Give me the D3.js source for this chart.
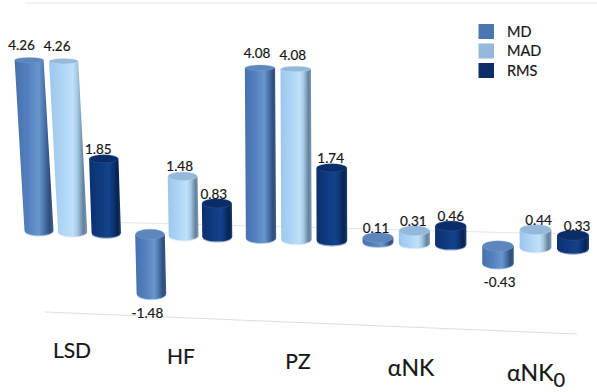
<!DOCTYPE html>
<html>
<head>
<meta charset="utf-8">
<script src="https://cdn.jsdelivr.net/npm/d3@7"></script>
<style>
  html, body { margin: 0; padding: 0; background: #fff; }
  svg { display: block; }
  text { font-family: Lato, "Open Sans", sans-serif; fill: #161616; stroke: #161616; stroke-width: 0.2; }
</style>
</head>
<body>
<svg id="chart" width="597" height="392"></svg>
<script>
const categories = ["LSD", "HF", "PZ", "αNK", "αNK"];
const categorySubscripts = ["", "", "", "", "0"];
const seriesNames = ["MD", "MAD", "RMS"];
const mdValues = [4.26, -1.48, 4.08, 0.11, -0.43];
const madValues = [4.26, 1.48, 4.08, 0.31, 0.44];
const rmsValues = [1.85, 0.83, 1.74, 0.46, 0.33];
const seriesValues = [mdValues, madValues, rmsValues];

const seriesStyle = [
  { cap: "#5c86bc", rim: "#7ea5d4", swatch: "#4a76b2",
    stops: ["#4670ac", "#5382c0", "#6a96cc", "#4f7bb5", "#2f4d7b", "#3f6089"] },
  { cap: "#93b8da", rim: "#c4def4", swatch: "#94b9dc",
    stops: ["#9cc6ec", "#aed5f6", "#bfe1fa", "#a6c9e4", "#64829e", "#7e99b2"] },
  { cap: "#0a2c68", rim: "#3f66a0", swatch: "#0c2f6b",
    stops: ["#0b3070", "#0f3a80", "#134389", "#0e367a", "#07224f", "#1d4270"] }
];
const stopOffsets = [0, 0.35, 0.62, 0.74, 0.9, 1];

const svg = d3.select("#chart");
const defs = svg.append("defs");

seriesStyle.forEach((s, i) => {
  const g = defs.append("linearGradient").attr("id", "body" + i);
  s.stops.forEach((c, k) => g.append("stop").attr("offset", stopOffsets[k]).attr("stop-color", c));
});

// Horizontal placement widens slightly to the right to suggest perspective.
const slotsPerCategory = 3.3;
const x = d3.scaleLinear()
  .domain([0, 3.3, 6.6, 9.9, 13.2, 15.2])
  .range([39, 150, 261, 378, 498, 573]);
const barWidth = d3.scaleLinear().domain([39, 573]).range([29, 32]);

// The floor plane slopes downward from left to right.
const floorY = d3.scaleLinear().domain([39, 573]).range([230.5, 248.5]);
const pxPerUnit = d3.scaleOrdinal().domain(d3.range(5)).range([40, 40, 41.7, 40, 40]);

// Columns on the left lean outward; the lean fades across the chart.
const lean = d3.scaleLinear()
  .domain([39, 72, 105, 182, 261, 400])
  .range([0.058, 0.053, 0.034, 0.017, 0.006, 0])
  .clamp(true);

// Ellipses open up the further they sit below eye level.
const ellipseRy = d3.scaleLinear().domain([57, 300]).range([2.6, 6]);
const labelShift = d3.scaleLinear()
  .domain([39, 105, 182, 296, 332, 378, 451, 536, 573])
  .range([-7.5, -5.5, -3, -3, -1, -2, 0, 3, 4]);
const labelGap = d3.scaleLinear().domain([60, 150]).range([10, 4.8]).clamp(true);

// Background rules of the chart box.
const rules = [
  [[25, 3], [597, 3], "#e6e6e6", 1.2],
  [[120, 222.5], [560, 234], "#e4e4e4", 1],
  [[45, 312], [577, 334], "#dedede", 1]
];
svg.append("g").selectAll("line").data(rules).join("line")
  .attr("x1", d => d[0][0]).attr("y1", d => d[0][1])
  .attr("x2", d => d[1][0]).attr("y2", d => d[1][1])
  .attr("stroke", d => d[2]).attr("stroke-width", d => d[3]);

// One record per column, drawn left to right.
const columns = [];
categories.forEach((c, ci) => {
  seriesNames.forEach((name, si) => {
    const value = seriesValues[si][ci];
    const base = x(ci * slotsPerCategory + si);
    const y0 = floorY(base);
    const yEnd = y0 - value * pxPerUnit(ci);
    const topY = Math.min(y0, yEnd), botY = Math.max(y0, yEnd);
    const k = lean(base);
    const cxAt = y => base - k * (y0 - y);
    columns.push({ ci, si, value, base, topY, botY, topX: cxAt(topY), botX: cxAt(botY),
      rx: barWidth(base) / 2, ryTop: ellipseRy(topY), ryBot: ellipseRy(botY) });
  });
});

const barG = svg.append("g");
const bar = barG.selectAll("g").data(columns).join("g");

bar.append("path")
  .attr("d", d => {
    const p = d3.path();
    p.moveTo(d.topX - d.rx, d.topY);
    p.lineTo(d.botX - d.rx, d.botY);
    p.bezierCurveTo(d.botX - d.rx, d.botY + d.ryBot * 1.33, d.botX + d.rx, d.botY + d.ryBot * 1.33, d.botX + d.rx, d.botY);
    p.lineTo(d.topX + d.rx, d.topY);
    p.closePath();
    return p.toString();
  })
  .attr("fill", d => `url(#body${d.si})`);

// Thin lit rim along the base of each column.
bar.append("path")
  .attr("d", d => {
    const p = d3.path();
    p.moveTo(d.botX - d.rx + 1, d.botY + d.ryBot * 0.45);
    p.bezierCurveTo(d.botX - d.rx * 0.5, d.botY + d.ryBot * 1.28, d.botX + d.rx * 0.5, d.botY + d.ryBot * 1.28, d.botX + d.rx - 1, d.botY + d.ryBot * 0.45);
    return p.toString();
  })
  .attr("fill", "none")
  .attr("stroke", d => seriesStyle[d.si].rim)
  .attr("stroke-opacity", 0.55)
  .attr("stroke-width", 1.1);

bar.append("ellipse")
  .attr("cx", d => d.topX).attr("cy", d => d.topY)
  .attr("rx", d => d.rx - 0.3).attr("ry", d => d.ryTop)
  .attr("fill", d => seriesStyle[d.si].cap)
  .attr("stroke", d => seriesStyle[d.si].rim)
  .attr("stroke-opacity", 0.5)
  .attr("stroke-width", 0.7);

// Value labels sit above positive columns and below negative ones.
svg.append("g").selectAll("text").data(columns).join("text")
  .attr("x", d => (d.value < 0 ? d.botX : d.topX) + labelShift(d.base))
  .attr("y", d => d.value < 0 ? d.botY + d.ryBot + 18.5 : d.topY - labelGap(d.topY))
  .attr("text-anchor", "middle")
  .attr("font-size", 13.5)
  .text(d => d.value.toFixed(2));

// Category names follow the slope of the floor.
const categoryLabelX = d3.scaleOrdinal().domain(d3.range(5)).range([72, 181, 298, 411, 536]);
const categoryLabelY = d3.scaleOrdinal().domain(d3.range(5)).range([358, 364, 369, 376, 381]);
const categoryFontSize = d3.scaleOrdinal().domain(d3.range(5)).range([21, 21, 21, 23, 23]);
const catLabels = svg.append("g").selectAll("text").data(categories).join("text")
  .attr("x", (d, i) => categoryLabelX(i))
  .attr("y", (d, i) => categoryLabelY(i))
  .attr("text-anchor", "middle")
  .attr("font-size", (d, i) => categoryFontSize(i))
  .text(d => d);
catLabels.filter((d, i) => categorySubscripts[i])
  .append("tspan")
  .attr("dy", 6)
  .attr("font-size", 20)
  .text(categorySubscripts[4]);

// Legend.
const legendY = d3.scalePoint().domain(seriesNames).range([31.5, 70.5]);
const legend = svg.append("g").selectAll("g").data(seriesNames).join("g");
legend.append("rect")
  .attr("x", 478.5).attr("y", d => legendY(d) - 7.5)
  .attr("width", 15.5).attr("height", 15)
  .attr("fill", (d, i) => seriesStyle[i].swatch);
legend.append("text")
  .attr("x", 507).attr("y", d => legendY(d) + 5)
  .attr("font-size", 14.5)
  .text(d => d);
</script>
</body>
</html>
